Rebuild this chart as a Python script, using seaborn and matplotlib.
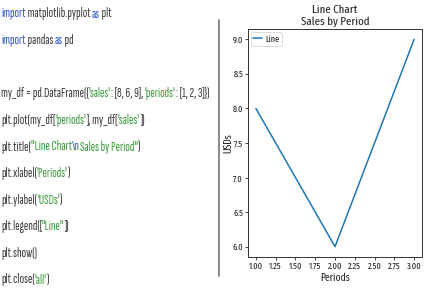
import matplotlib
matplotlib.use("Agg")
import matplotlib.pyplot as plt
from matplotlib.lines import Line2D
import seaborn as sns
import pandas as pd

# ---- data ----
sales = [8, 6, 9]
periods = [1, 2, 3]
legend_labels = ["Line"]
title_text = "Line Chart\nSales by Period"
xlabel_text = "Periods"
ylabel_text = "USDs"

KW = "#2f56c9"
STR = "#3a9a3a"
TXT = "#3a3a3a"
code_lines = [
    [("import", KW), (" matplotlib.pyplot ", TXT), ("as", KW), (" plt", TXT)],
    [("import", KW), (" pandas ", TXT), ("as", KW), (" pd", TXT)],
    [],
    [("my_df = pd.DataFrame({", TXT), ("'sales'", STR), (": [8, 6, 9], ", TXT),
     ("'periods'", STR), (": [1, 2, 3]})", TXT)],
    [("plt.plot(my_df[", TXT), ("'periods'", STR), ("], my_df[", TXT), ("'sales'", STR), ("])", TXT)],
    [("plt.title(", TXT), ("\"Line Chart", STR), ("\\n", KW), ("Sales by Period\"", STR), (")", TXT)],
    [("plt.xlabel(", TXT), ("'Periods'", STR), (")", TXT)],
    [("plt.ylabel(", TXT), ("'USDs'", STR), (")", TXT)],
    [("plt.legend([", TXT), ("\"Line\"", STR), ("])", TXT)],
    [("plt.show()", TXT)],
    [("plt.close(", TXT), ("'all'", STR), (")", TXT)],
]

sns.set_theme(style="ticks")
FAM = ["Fira Sans Extra Condensed", "DejaVu Sans"]
CODE_FAM = ["Sofia Sans Extra Condensed", "Fira Sans Extra Condensed", "DejaVu Sans"]
plt.rcParams["font.family"] = FAM

W, H = 427, 298
fig = plt.figure(figsize=(W / 100, H / 100), dpi=100)
fig.patch.set_facecolor("white")

df = pd.DataFrame({"sales": sales, "periods": periods})

ax = fig.add_axes([248 / W, 1 - 257 / H, (422 - 248) / W, (257 - 29) / H])
sns.lineplot(data=df, x="periods", y="sales", ax=ax, color="#1f77b4", linewidth=1.1,
             label=legend_labels[0])
ax.set_title(title_text, fontsize=8.5, color="#222222", pad=3, linespacing=1.15)
ax.set_xlabel(xlabel_text, fontsize=7.5, color="#222222", labelpad=1)
ax.set_ylabel(ylabel_text, fontsize=7.5, color="#222222")
ax.yaxis.set_label_coords(-0.085, 0.5)
ax.set_xticks([1.0, 1.25, 1.5, 1.75, 2.0, 2.25, 2.5, 2.75, 3.0])
ax.set_yticks([6.0, 6.5, 7.0, 7.5, 8.0, 8.5, 9.0])
ax.tick_params(labelsize=6.6, length=2, width=0.6, pad=1.5, colors="#222222")
for s in ax.spines.values():
    s.set_linewidth(0.7)
    s.set_color("#333333")
leg = ax.legend(loc="upper left", fontsize=6.5, handlelength=1.0, handletextpad=0.3,
                borderpad=0.3, borderaxespad=0.3, frameon=True, fancybox=True, framealpha=0.8)
leg.get_frame().set_linewidth(0.6)

# separator line
fig.add_artist(Line2D([219 / W, 219 / W], [1 - 20 / H, 1 - 276 / H], color="#8a8a8a",
                      linewidth=1.4, transform=fig.transFigure))

# code text
bg = fig.add_axes([0, 0, 1, 1], zorder=-1)
bg.axis("off")
y0, dy = 14, 26.6
code_texts = []
ref_last = None
for i, segs in enumerate(code_lines):
    if not segs:
        continue
    yc = 1 - (y0 + i * dy) / H
    prev = None
    for text, col in segs:
        if prev is None:
            prev = bg.text(1 / W, yc, text, transform=fig.transFigure, fontsize=8,
                           color=col, ha="left", va="center", family=CODE_FAM)
        else:
            prev = bg.annotate(text, xy=(1, 0), xycoords=prev, ha="left", va="bottom",
                               fontsize=8, color=col, family=CODE_FAM)
        code_texts.append(prev)
    if i == 3:
        ref_last = prev

# fit the longest code line to the reference width
fig.canvas.draw()
right = ref_last.get_window_extent().x1
scale = 209.0 / right
for t in code_texts:
    t.set_fontsize(8 * scale)

fig.savefig("out.png", dpi=100)
